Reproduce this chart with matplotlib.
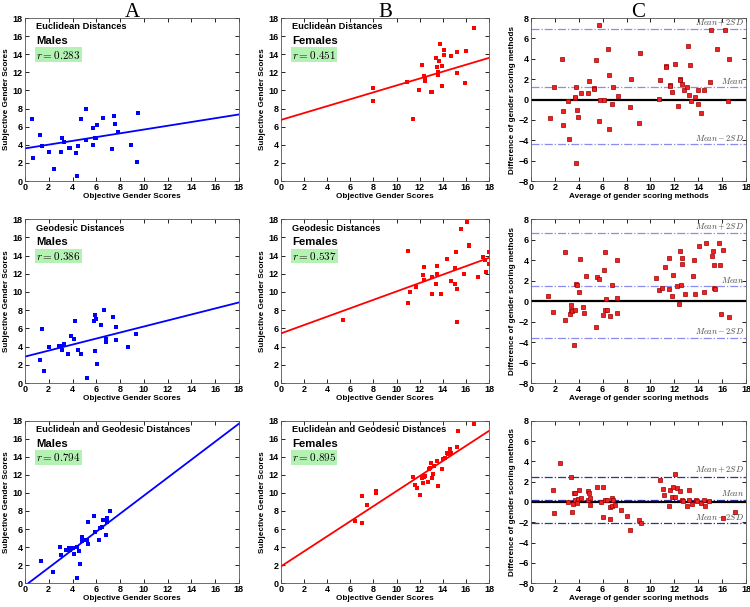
import numpy as np
import matplotlib
matplotlib.use('Agg')
import matplotlib.pyplot as plt

plt.rcParams['font.family'] = ['Liberation Sans', 'DejaVu Sans']
plt.rcParams['mathtext.fontset'] = 'cm'

# ---- Euclidean, males ----
euc_m_x = [0.6, 0.7, 1.3, 1.4, 2.0, 2.4, 3.0, 3.1, 3.3, 3.7, 3.8, 4.3, 4.4, 4.5, 4.7,
           5.1, 5.1, 5.7, 5.7, 5.9, 6.0, 6.1, 6.6, 7.3, 7.5, 7.6, 7.8, 8.9, 9.4, 9.5]
euc_m_y = [6.8, 2.5, 5.1, 3.9, 3.2, 1.3, 3.2, 4.8, 4.3, 3.6, 3.6, 3.1, 0.6, 3.9, 6.8,
           8.0, 4.5, 5.9, 4.0, 4.8, 4.8, 6.2, 7.0, 3.5, 7.2, 6.3, 5.4, 4.0, 2.1, 7.5]
euc_m_fit = [3.6, 7.35]

# ---- Euclidean, females ----
euc_f_x = [8.0, 8.0, 10.9, 11.4, 11.9, 12.2, 12.4, 12.5, 12.5, 13.0, 13.1, 13.4, 13.5, 13.6,
           13.6, 13.6, 13.7, 13.8, 13.9, 13.9, 14.1, 14.1, 14.7, 15.2, 15.2, 15.9, 16.0, 16.7]
euc_f_y = [10.3, 8.8, 10.9, 6.9, 10.0, 12.8, 11.6, 11.3, 11.1, 9.8, 9.8, 13.6, 12.6, 12.0,
           11.8, 11.7, 13.2, 15.1, 12.7, 10.5, 14.5, 13.9, 13.8, 14.3, 11.9, 10.8, 14.4, 16.9]
euc_f_fit = [6.75, 13.6]

# ---- Euclidean, Bland-Altman ----
euc_ba_x = [1.63, 1.91, 2.56, 2.65, 2.70, 3.12, 3.2, 3.68, 3.7, 3.74, 3.74, 3.82, 3.96, 4.21,
            4.78, 4.86, 5.28, 5.3, 5.42, 5.67, 5.7, 5.76, 6.15, 6.43, 6.52, 6.52, 6.74, 6.88,
            7.28, 8.29, 8.4, 9.04, 9.1, 10.73, 10.79, 11.26, 11.26, 11.63, 11.66, 11.83, 12.08,
            12.3, 12.44, 12.47, 12.61, 12.84, 13.09, 13.17, 13.26, 13.34, 13.37, 13.74, 14.0,
            14.0, 14.24, 14.49, 14.97, 15.08, 15.59, 16.24, 16.46, 16.6]
euc_ba_y = [-1.85, 1.19, 3.94, -1.16, -2.55, -0.17, -3.9, 0.1, 0.23, 1.26, -6.2, -1.03, -1.69,
            0.66, 0.66, 1.79, 1.13, 1.06, 3.87, 7.3, -2.09, -0.07, -0.07, 4.97, 2.38, -2.85,
            -0.43, 1.26, 0.3, -0.76, 1.99, -2.28, 4.6, 0.07, 1.92, 3.28, 3.15, 1.46, 1.29, 0.76,
            3.44, -0.63, 1.99, 1.89, 1.49, 0.89, 1.19, 5.23, 0.46, 3.34, -0.13, 0.23, 0.89,
            -0.43, -1.29, 0.89, 1.69, 6.85, 5.0, 6.85, -0.17, 3.97]
euc_ba_lines = [6.95, 1.25, -4.4]

# ---- Geodesic, males ----
geo_m_x = [1.29, 1.43, 1.63, 1.99, 2.87, 3.0, 3.09, 3.29, 3.65, 3.85, 4.1, 4.19, 4.44, 4.69,
           4.75, 5.22, 5.81, 5.93, 5.96, 5.93, 6.1, 6.43, 6.66, 6.8, 6.83, 7.39, 7.67, 7.67,
           8.68, 9.35]
geo_m_y = [2.49, 5.89, 1.28, 3.92, 4.02, 4.02, 3.59, 4.32, 3.18, 5.12, 4.79, 6.81, 3.62, 3.22,
           3.15, 0.59, 6.84, 7.5, 6.99, 3.55, 2.12, 6.33, 8.01, 4.46, 4.79, 7.21, 6.18, 4.72,
           3.95, 5.38]
geo_m_fit = [2.9, 8.85]

# ---- Geodesic, females ----
geo_f_x = [5.4, 11.03, 11.03, 11.12, 11.72, 12.3, 12.41, 12.38, 13.07, 13.07, 13.45, 13.48,
           13.51, 13.85, 14.34, 14.71, 15.03, 15.06, 15.14, 15.2, 15.26, 15.55, 15.86, 16.06,
           16.26, 16.29, 17.04, 17.44, 17.64, 17.76, 17.96, 17.99]
geo_f_y = [6.96, 14.5, 8.8, 10.05, 10.56, 11.81, 12.7, 11.26, 11.67, 9.83, 10.89, 11.92,
           12.81, 9.79, 13.62, 11.15, 10.86, 12.62, 14.35, 10.34, 6.7, 16.9, 12.0, 17.7,
           15.0, 15.16, 11.67, 13.84, 13.47, 12.15, 14.43, 13.1]
geo_f_fit = [5.45, 13.75]

# ---- Geodesic, Bland-Altman ----
geo_ba_x = [1.42, 1.86, 2.81, 2.87, 3.28, 3.34, 3.37, 3.42, 3.67, 3.59, 3.78, 3.87, 3.98, 4.06,
            4.37, 4.4, 4.62, 5.4, 5.56, 5.73, 6.04, 6.09, 6.2, 6.2, 6.29, 6.37, 6.62, 6.79,
            7.18, 7.21, 7.23, 10.43, 10.68, 10.93, 11.21, 11.55, 11.57, 11.83, 11.91, 12.24,
            12.35, 12.49, 12.52, 12.6, 12.66, 12.91, 13.58, 13.63, 13.69, 14.08, 14.5, 14.64,
            15.19, 15.25, 15.3, 15.33, 15.39, 15.75, 15.86, 15.89, 16.05, 16.55]
geo_ba_y = [0.46, -1.05, 4.75, -1.8, -1.25, -0.39, -0.85, -0.95, -0.85, -4.3, 1.64, 1.57, 0.92,
            4.07, -0.59, -1.18, 2.49, -2.49, 2.39, 2.13, -1.38, 3.02, 4.82, -0.85, 0.23, -0.92,
            -1.44, 1.57, 0.3, -1.21, 4.03, 2.3, 1.11, 1.25, 3.31, 4.16, 1.18, 0.52, 2.56, 1.44,
            -0.26, 4.92, 1.54, 4.2, 3.61, 0.69, 2.49, 4.0, 0.72, 5.34, 0.85, 5.64, 4.36, 4.89,
            3.57, 1.31, 1.18, 5.64, 3.57, -1.28, 5.02, -1.57]
geo_ba_lines = [6.66, 1.48, -3.57]

# ---- Euclidean and geodesic, males ----
both_m_x = [1.33, 2.34, 2.91, 3.05, 3.42, 3.73, 3.79, 4.07, 4.1, 4.15, 4.35, 4.35, 4.55, 4.6,
            4.8, 4.83, 4.94, 5.25, 5.28, 5.28, 5.79, 5.9, 6.19, 6.27, 6.44, 6.55, 6.78, 6.86,
            6.89, 7.18]
both_m_y = [2.47, 1.25, 4.01, 3.13, 3.68, 3.94, 3.64, 3.86, 3.2, 3.17, 4.05, 0.59, 3.53, 2.13,
            5.12, 4.71, 4.78, 4.82, 6.77, 4.34, 7.47, 5.71, 4.75, 6.07, 6.26, 6.99, 5.37, 7.18,
            6.73, 7.99]
both_m_fit = [-0.3, 17.7]

# ---- Euclidean and geodesic, females ----
both_f_x = [6.42, 6.99, 7.05, 7.42, 8.19, 8.25, 11.43, 11.58, 11.8, 12.0, 12.18, 12.26, 12.38,
            12.46, 12.72, 12.81, 12.89, 13.0, 13.03, 13.15, 13.21, 13.52, 13.58, 13.95, 14.04,
            14.15, 14.36, 14.44, 14.64, 14.7, 15.19, 15.3, 16.73]
both_f_y = [6.92, 9.72, 6.66, 8.72, 10.05, 10.27, 11.74, 10.89, 10.53, 9.79, 11.67, 11.08,
            11.81, 11.89, 11.23, 12.66, 12.81, 13.32, 11.63, 12.11, 13.03, 13.51, 10.78, 12.66,
            13.77, 13.84, 14.39, 14.32, 14.91, 14.43, 15.09, 16.86, 17.63]
both_f_fit = [1.85, 16.9]

# ---- Euclidean and geodesic, Bland-Altman ----
both_ba_x = [1.81, 1.92, 2.46, 3.09, 3.31, 3.45, 3.54, 3.62, 3.68, 3.68, 3.88, 3.96, 4.05, 4.16,
             4.76, 4.78, 4.87, 4.9, 4.93, 5.49, 5.89, 6.0, 6.0, 6.23, 6.37, 6.6, 6.62, 6.74,
             6.79, 6.85, 7.05, 7.53, 8.01, 8.29, 9.0, 9.2, 10.81, 11.04, 11.1, 11.52, 11.61,
             11.84, 11.89, 12.03, 12.09, 12.26, 12.48, 12.6, 12.71, 13.05, 13.19, 13.25, 13.47,
             13.84, 13.87, 14.24, 14.49, 14.6, 14.89, 16.05, 17.07]
both_ba_y = [1.16, -1.12, 3.87, 0.0, 2.51, -1.02, -0.2, 0.93, 0.89, 0.2, -0.13, 0.26, 1.16, 0.4,
             1.06, 0.2, 0.89, 0.36, -0.3, 1.45, 0.03, 1.45, -1.49, 0.17, 0.23, -0.46, -1.72,
             -0.36, 0.36, 0.17, -0.26, -0.76, -1.36, -2.74, -1.82, -2.08, 2.15, 1.26, 0.69,
             -0.36, 1.19, 0.53, 1.49, 0.5, 2.81, 1.36, 1.06, 0.17, 0.1, -0.36, 0.17, 1.22, -0.2,
             0.23, 0.1, -0.13, 0.2, -0.36, 0.13, -1.59, -0.96]
both_ba_lines = [2.51, 0.23, -2.08]

titles = ['Euclidean Distances', 'Geodesic Distances', 'Euclidean and Geodesic Distances']
r_male = ['0.283', '0.386', '0.794']
r_female = ['0.451', '0.537', '0.895']
ba_labels = [r'$Mean+2SD$', r'$Mean$', r'$Mean-2SD$']

fig = plt.figure(figsize=(7.5, 6.07), dpi=100)

row_bottom = [0.7018, 0.369, 0.0395]
row_height = [0.2685, 0.270, 0.267]
col_left = [0.0333, 0.3747, 0.708]
col_width = [0.2853, 0.2773, 0.2867]

LABEL_SIZE = 5.9


def style_axes(ax):
    ax.tick_params(direction='in', top=True, right=True, length=3, width=0.6, pad=1.5)
    for lab in ax.get_xticklabels() + ax.get_yticklabels():
        lab.set_fontsize(6.5)
        lab.set_fontweight('bold')
    for sp in ax.spines.values():
        sp.set_linewidth(0.6)
        sp.set_color('#555555')


def scatter_panel(ax, x, y, fit, color, title, sex, r):
    ax.plot(x, y, 's', color=color, markersize=2.7, markeredgewidth=0)
    xs = np.array([0, 18])
    ax.plot(xs, fit, '-', color=color, linewidth=1.3)
    ax.set_xlim(0, 18)
    ax.set_ylim(0, 18)
    ax.set_xticks(np.arange(0, 19, 2))
    ax.set_yticks(np.arange(0, 19, 2))
    ax.set_xlabel('Objective Gender Scores', fontsize=LABEL_SIZE, fontweight='bold', labelpad=1)
    ax.set_ylabel('Subjective Gender Scores', fontsize=LABEL_SIZE, fontweight='bold', labelpad=2)
    ax.text(0.052, 0.945, title, transform=ax.transAxes, fontsize=6.7,
            fontweight='bold', va='center', ha='left')
    ax.text(0.052, 0.86, sex, transform=ax.transAxes, fontsize=8.2,
            fontweight='bold', va='center', ha='left')
    ax.text(0.052, 0.775, r'$r = %s$' % r, transform=ax.transAxes, fontsize=8,
            va='center', ha='left',
            bbox=dict(boxstyle='square,pad=0.12', facecolor='#b4f2b4', edgecolor='none'))
    style_axes(ax)


def ba_panel(ax, x, y, lines, line_color):
    ax.axhline(0, color='black', linewidth=1.6)
    for val, lab in zip(lines, ba_labels):
        ax.axhline(val, color=line_color, linewidth=0.9, linestyle='-.')
        ax.text(17.85, val + 0.12, lab, fontsize=6, color='#444444', ha='right', va='bottom')
    ax.plot(x, y, 's', markerfacecolor='#ee2222', markeredgecolor='#990000',
            markeredgewidth=0.5, markersize=3)
    ax.set_xlim(0, 18)
    ax.set_ylim(-8, 8)
    ax.set_xticks(np.arange(0, 19, 2))
    ax.set_yticks(np.arange(-8, 9, 2))
    ax.set_xlabel('Average of gender scoring methods', fontsize=LABEL_SIZE, fontweight='bold', labelpad=1)
    ax.set_ylabel('Difference of gender scoring methods', fontsize=LABEL_SIZE, fontweight='bold', labelpad=2)
    style_axes(ax)


males = [(euc_m_x, euc_m_y, euc_m_fit), (geo_m_x, geo_m_y, geo_m_fit), (both_m_x, both_m_y, both_m_fit)]
females = [(euc_f_x, euc_f_y, euc_f_fit), (geo_f_x, geo_f_y, geo_f_fit), (both_f_x, both_f_y, both_f_fit)]
ba = [(euc_ba_x, euc_ba_y, euc_ba_lines, '#8c8cf0'),
      (geo_ba_x, geo_ba_y, geo_ba_lines, '#8c8cf0'),
      (both_ba_x, both_ba_y, both_ba_lines, '#30309a')]

for i in range(3):
    axA = fig.add_axes([col_left[0], row_bottom[i], col_width[0], row_height[i]])
    scatter_panel(axA, *males[i], 'blue', titles[i], 'Males', r_male[i])
    axB = fig.add_axes([col_left[1], row_bottom[i], col_width[1], row_height[i]])
    scatter_panel(axB, *females[i], 'red', titles[i], 'Females', r_female[i])
    axC = fig.add_axes([col_left[2], row_bottom[i], col_width[2], row_height[i]])
    ba_panel(axC, *ba[i])
    if i == 0:
        for ax, letter in zip([axA, axB, axC], ['A', 'B', 'C']):
            ax.set_title(letter, fontsize=15, family=['Liberation Serif', 'DejaVu Serif'], pad=1)

fig.savefig('out.png', dpi=100)
